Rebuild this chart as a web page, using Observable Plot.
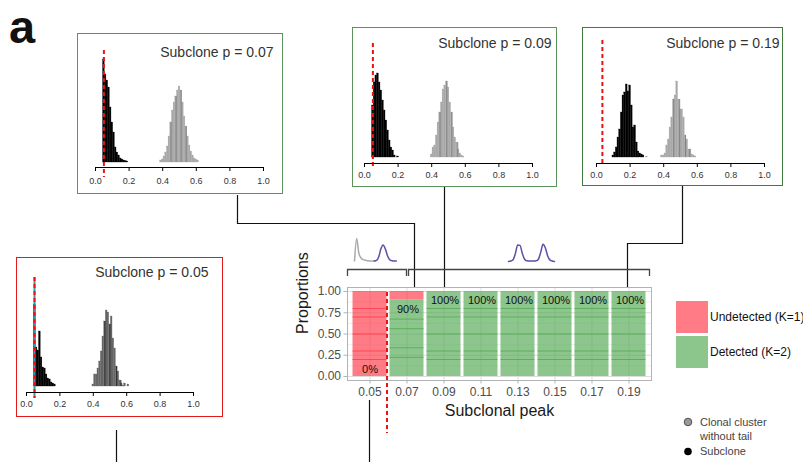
<!DOCTYPE html>
<html><head><meta charset="utf-8">
<script src="https://cdn.jsdelivr.net/npm/d3@7"></script>
<script src="https://cdn.jsdelivr.net/npm/@observablehq/plot@0.6"></script>
<style>
body{margin:0;background:#fff;}
#fig{position:relative;width:803px;height:462px;overflow:hidden;font-family:"Liberation Sans",Arial,sans-serif;background:#fff;}
#fig > svg{position:absolute;}
</style></head><body><div id="fig"></div>
<script>
// ---------- DATA ----------
const xTicks = [0, 0.2, 0.4, 0.6, 0.8, 1.0];
const binWidth = 0.01;

// histogram panels (bin heights, bins of width 0.01 starting at *From)
const p07Title = "Subclone p = 0.07", p07Threshold = 0.05;
const p07BlackFrom = 0.05, p07Black = [103,88,82,75,55,40,30,15,10,7,4,3,2,1.5,1];
const p07GrayFrom = 0.39, p07Gray = [2,3,6,10,16,26,40,52,60,66,72,76,72,60,46,36,26,17,11,7,4,3,2];
const p07GrayLines = [0.45,0.48,0.51,0.54];

const p09Title = "Subclone p = 0.09", p09Threshold = 0.05;
const p09BlackFrom = 0.05, p09Black = [52,75,82,84,75,67,57,47,37,27,17,10,7,2,0,1];
const p09GrayFrom = 0.40, p09Gray = [3,10,12,22,35,45,55,68,72,76,70,55,45,30,20,15,8,4,2,1];
const p09GrayLines = [0.45,0.49,0.52,0.555];

const p19Title = "Subclone p = 0.19", p19Threshold = 0.035;
const p19BlackFrom = 0.10, p19Black = [2,5,10,20,28,45,62,65,73,66,72,52,30,32,15,6,4,3,2];
const p19GrayFrom = 0.30, p19Gray = [1,0,0,0,0,0,0,0,0,2,2,4,12,18,30,40,58,62,76,58,48,48,40,22,18,8,8,3,2,1];
const p19GrayLines = [0.46,0.495,0.53,0.555];

const p05Title = "Subclone p = 0.05", p05Threshold = 0.048;
const p05BlackFrom = 0.05, p05Black = [82,39,36,55,29,19,18,12,8,7,4,3,2];
const p05GrayFrom = 0.40, p05Gray = [2,12,12,18,25,35,50,65,76,74,62,70,48,38,20,15,6,3,1,3,0,2];
const p05GrayLines = [0.47,0.50,0.54,0.565];

// main stacked bar chart
const peaks = ["0.05","0.07","0.09","0.11","0.13","0.15","0.17","0.19"];
const detected = [0, 0.9, 1, 1, 1, 1, 1, 1];
const innerLevels = [
  [0.2,0.3,0.5,0.7,0.8],
  [0.225,0.3375,0.5625,0.675],
  [0.2,0.3,0.5,0.7,0.8],[0.2,0.3,0.5,0.7,0.8],[0.2,0.3,0.5,0.7,0.8],
  [0.2,0.3,0.5,0.7,0.8],[0.2,0.3,0.5,0.7,0.8],[0.2,0.3,0.5,0.7,0.8]
];
const yTicks = [0, 0.25, 0.5, 0.75, 1];
const yMinorTicks = [0.125, 0.375, 0.625, 0.875];
const statusNames = ["Undetected (K=1)", "Detected (K=2)"];
const statusColors = ["#ff3545", "#50a750"];

// mini density icons (shape values)
const icon1Gray = [0.02,1.0,0.35,0.15,0.08,0.05,0.03,0.02,0.02,0.02];
const icon1Purple = [0.02,0.05,0.2,0.55,0.72,0.55,0.25,0.08,0.03,0.02,0.02];
const icon2Purple = [0.0,0.02,0.08,0.35,0.72,0.7,0.35,0.1,0.03,0.02,0.02,0.02,0.03,0.1,0.4,0.75,0.6,0.25,0.07,0.02,0.0];

const circleLegend = [["Clonal cluster","without tail"],["Subclone"]];

// ---------- DRAW ----------
const fig = document.getElementById("fig");
const FONT = '"Liberation Sans", Arial, sans-serif';

function place(svg, left, top) {
  svg.style.left = left + "px"; svg.style.top = top + "px";
  fig.appendChild(svg); return svg;
}

function histPanel(o) {
  const bins = (arr, from) => arr.map((v, i) => ({x: from + i * binWidth, h: v}));
  const black = bins(o.black, o.blackFrom);
  const gray = bins(o.gray, o.grayFrom).filter(d => d.h > 0);
  const lines = o.grayLines.map(x => {
    const b = gray.find(d => Math.abs(d.x - x) <= binWidth / 2 + 1e-9) || {h: 0};
    return {x, h: b.h};
  });
  const marks = [
    Plot.rect(gray, {x1: d => d.x - binWidth/2, x2: d => d.x + binWidth/2, y1: 0, y2: "h",
      fill: o.grayFill, stroke: o.grayFill, strokeWidth: 0.3}),
    Plot.ruleX(lines, {x: "x", y1: 0, y2: "h", stroke: o.grayLine, strokeWidth: 0.9}),
    Plot.rect(black.filter(d => d.h > 0), {x1: d => d.x - binWidth/2, x2: d => d.x + binWidth/2, y1: 0, y2: "h",
      fill: "#000", stroke: "#000", strokeWidth: 0.3}),
  ];
  if (o.teal) marks.push(Plot.ruleX([o.threshold], {stroke: "#2a9fa5", strokeWidth: 2, insetTop: o.ruleTop, insetBottom: o.ruleBottom}));
  marks.push(
    Plot.ruleX([o.threshold], {stroke: "#ee1111", strokeWidth: 2, strokeDasharray: "4,3", insetTop: o.ruleTop, insetBottom: o.ruleBottom}),
    Plot.frame({anchor: "bottom", stroke: "#000", strokeWidth: 1}),
    Plot.axisX({ticks: xTicks, tickFormat: d3.format(".1f"), tickSize: 4, tickPadding: o.tickPad, fontSize: 9, fill: "#333", stroke: "#000", label: null}),
    Plot.text([o.title], {text: d => d, frameAnchor: "top-right", textAnchor: "end", lineAnchor: "middle",
      dx: o.titleDx, dy: o.titleDy, fontSize: 14, fill: "#333"})
  );
  const svg = Plot.plot({
    width: o.w, height: o.h, marginLeft: o.mL, marginRight: o.mR, marginTop: 0, marginBottom: o.h - o.axisY,
    style: {fontFamily: FONT, background: "#fff", overflow: "visible"},
    x: {domain: [0, 1], label: null},
    y: {domain: [0, 100], range: [o.base, o.base - 100], axis: null},
    marks
  });
  svg.style.outline = `1.4px solid ${o.border}`;
  svg.style.outlineOffset = "-1px";
  return place(svg, o.left, o.top);
}

histPanel({title: p07Title, threshold: p07Threshold, black: p07Black, blackFrom: p07BlackFrom,
  gray: p07Gray, grayFrom: p07GrayFrom, grayLines: p07GrayLines, grayFill: "#a8a8a8", grayLine: "#7c7c7c",
  left: 77, top: 33, w: 206, h: 161, mL: 18, mR: 20, axisY: 134, base: 129, tickPad: 6,
  titleDx: 10, titleDy: 19, ruleTop: 17, ruleBottom: -10, border: "#5b945b"});
histPanel({title: p09Title, threshold: p09Threshold, black: p09Black, blackFrom: p09BlackFrom,
  gray: p09Gray, grayFrom: p09GrayFrom, grayLines: p09GrayLines, grayFill: "#a8a8a8", grayLine: "#7c7c7c",
  left: 352, top: 27, w: 205, h: 160, mL: 12, mR: 25, axisY: 136, base: 130, tickPad: 4,
  titleDx: 19, titleDy: 16, ruleTop: 16, ruleBottom: -5, border: "#5b945b"});
histPanel({title: p19Title, threshold: p19Threshold, black: p19Black, blackFrom: p19BlackFrom,
  gray: p19Gray, grayFrom: p19GrayFrom, grayLines: p19GrayLines, grayFill: "#a8a8a8", grayLine: "#7c7c7c",
  left: 582, top: 27, w: 201, h: 159, mL: 14, mR: 19, axisY: 136, base: 130, tickPad: 4,
  titleDx: 15, titleDy: 16, ruleTop: 13, ruleBottom: 0, border: "#3f7a3f"});
histPanel({title: p05Title, threshold: p05Threshold, black: p05Black, blackFrom: p05BlackFrom,
  gray: p05Gray, grayFrom: p05GrayFrom, grayLines: p05GrayLines, grayFill: "#666", grayLine: "#222",
  left: 16, top: 257, w: 207, h: 160, mL: 10, mR: 30, axisY: 135, base: 129, tickPad: 4,
  titleDx: 15, titleDy: 15, ruleTop: 20, ruleBottom: -6, border: "#e41a1a", teal: true});

// main chart
const rows = peaks.flatMap((p, i) => [
  {peak: p, status: statusNames[1], y1: 0, y2: detected[i]},
  {peak: p, status: statusNames[0], y1: detected[i], y2: 1}
]).filter(d => d.y2 > d.y1);
const inner = peaks.flatMap((p, i) => innerLevels[i].map(v => ({peak: p, v, status: v <= detected[i] ? statusNames[1] : statusNames[0]})));
const labels = peaks.map((p, i) => ({peak: p, v: detected[i], text: Math.round(detected[i] * 100) + "%"}));

const mainPlot = Plot.plot({
  width: 370, height: 140, marginLeft: 57, marginRight: 9, marginTop: 7, marginBottom: 40,
  style: {fontFamily: FONT, background: "transparent", overflow: "visible"},
  x: {type: "band", domain: peaks, paddingInner: 0.081, paddingOuter: 0.149, round: false},
  y: {domain: [-0.047, 1.047]},
  color: {domain: statusNames, range: statusColors},
  marks: [
    Plot.gridY({ticks: yMinorTicks, stroke: "#ececec", strokeOpacity: 1, strokeWidth: 0.8}),
    Plot.gridY({ticks: yTicks, stroke: "#dedede", strokeOpacity: 1, strokeWidth: 1}),
    Plot.gridX({stroke: "#dedede", strokeOpacity: 1, strokeWidth: 1}),
    Plot.barY(rows, {x: "peak", y1: "y1", y2: "y2", fill: "status", fillOpacity: 0.65, inset: 0}),
    Plot.tickY(inner, {x: "peak", y: "v", stroke: "status", strokeWidth: 0.9, strokeOpacity: 0.85}),
    Plot.text(labels.filter(d => d.v > 0), {x: "peak", y: "v", text: "text", dy: 9, dx: 1, fontSize: 11, fill: "#111"}),
    Plot.text(labels.filter(d => d.v === 0), {x: "peak", y: "v", text: "text", dy: -7, fontSize: 11, fill: "#111"}),
    Plot.frame({stroke: "#b3b3b3"}),
    Plot.axisX({tickSize: 3.5, tickPadding: 3, fontSize: 12, fill: "#4d4d4d", stroke: "#b3b3b3", label: null}),
    Plot.axisY({ticks: yTicks, tickFormat: d3.format(".2f"), tickSize: 3.5, tickPadding: 3, fontSize: 12, fill: "#4d4d4d", stroke: "#b3b3b3", label: null}),
    Plot.text(["Subclonal peak"], {text: d => d, frameAnchor: "bottom", dy: 35, fontSize: 16, fill: "#1a1a1a"}),
    Plot.text(["Proportions"], {text: d => d, frameAnchor: "left", dx: -45, rotate: -90, fontSize: 16, fill: "#1a1a1a"})
  ]
});
place(mainPlot, 290, 280);

// density icons
function icon(series, left, top, w) {
  const marks = series.map(([vals, color, from]) =>
    Plot.line(vals.map((v, i) => ({i: from + i, v})), {x: "i", y: "v", stroke: color, strokeWidth: 1.5, curve: "monotone-x"}));
  const svg = Plot.plot({width: w, height: 27, margin: 0, style: {background: "transparent", overflow: "visible"},
    x: {domain: [0, 20], axis: null}, y: {domain: [0, 1], range: [25, 2], axis: null}, marks});
  return place(svg, left, top);
}
icon([[icon1Gray, "#aaaaaa", 0], [icon1Purple, "#5b4fa8", 9]], 354, 236, 44);
icon([[icon2Purple, "#5b4fa8", 0]], 508, 236, 46);

// overlay: panel label, connectors, brackets, threshold line, legends
const ov = d3.create("svg").attr("width", 803).attr("height", 462).style("left", "0px").style("top", "0px")
  .style("font-family", FONT);
const path = (pts, stroke, w, dash) => ov.append("path").attr("d", d3.line()(pts)).attr("fill", "none")
  .attr("stroke", stroke).attr("stroke-width", w).attr("stroke-dasharray", dash || null);

ov.append("text").attr("x", 9).attr("y", 43).attr("font-size", 47).attr("font-weight", "bold").attr("fill", "#111").text("a");

path([[237.5,195],[237.5,223.5],[414.5,223.5],[414.5,287]], "#111", 1.2);
path([[444.5,187],[444.5,287]], "#111", 1.2);
path([[682.5,186],[682.5,243.5],[627.5,243.5],[627.5,287]], "#111", 1.2);
path([[347.5,276],[347.5,269.5],[406.5,269.5],[406.5,276]], "#444", 1.3);
path([[408.5,276],[408.5,269.5],[649.5,269.5],[649.5,276]], "#444", 1.3);
path([[116.5,430],[116.5,462]], "#111", 1.2);
path([[369.5,400],[369.5,462]], "#111", 1.2);
path([[387,292],[387,433]], "#ee1111", 2, "4,3");

// fill legend
statusNames.forEach((s, i) => {
  ov.append("rect").attr("x", 676).attr("y", 301 + i * 35).attr("width", 32).attr("height", 32)
    .attr("fill", statusColors[i]).attr("fill-opacity", 0.65);
  ov.append("text").attr("x", 710).attr("y", 317 + i * 35).attr("dy", "0.35em").attr("font-size", 12).attr("fill", "#111").text(s);
});
// circle legend
ov.append("circle").attr("cx", 688).attr("cy", 422).attr("r", 3.8).attr("fill", "#999").attr("stroke", "#333").attr("stroke-width", 0.8);
ov.append("circle").attr("cx", 688).attr("cy", 451.5).attr("r", 3.8).attr("fill", "#000");
[[circleLegend[0][0], 422.5], [circleLegend[0][1], 436.5], [circleLegend[1][0], 451]].forEach(([t, y]) =>
  ov.append("text").attr("x", 700).attr("y", y).attr("dy", "0.35em").attr("font-size", 11).attr("fill", "#444").text(t));

fig.appendChild(ov.node());
</script></body></html>
